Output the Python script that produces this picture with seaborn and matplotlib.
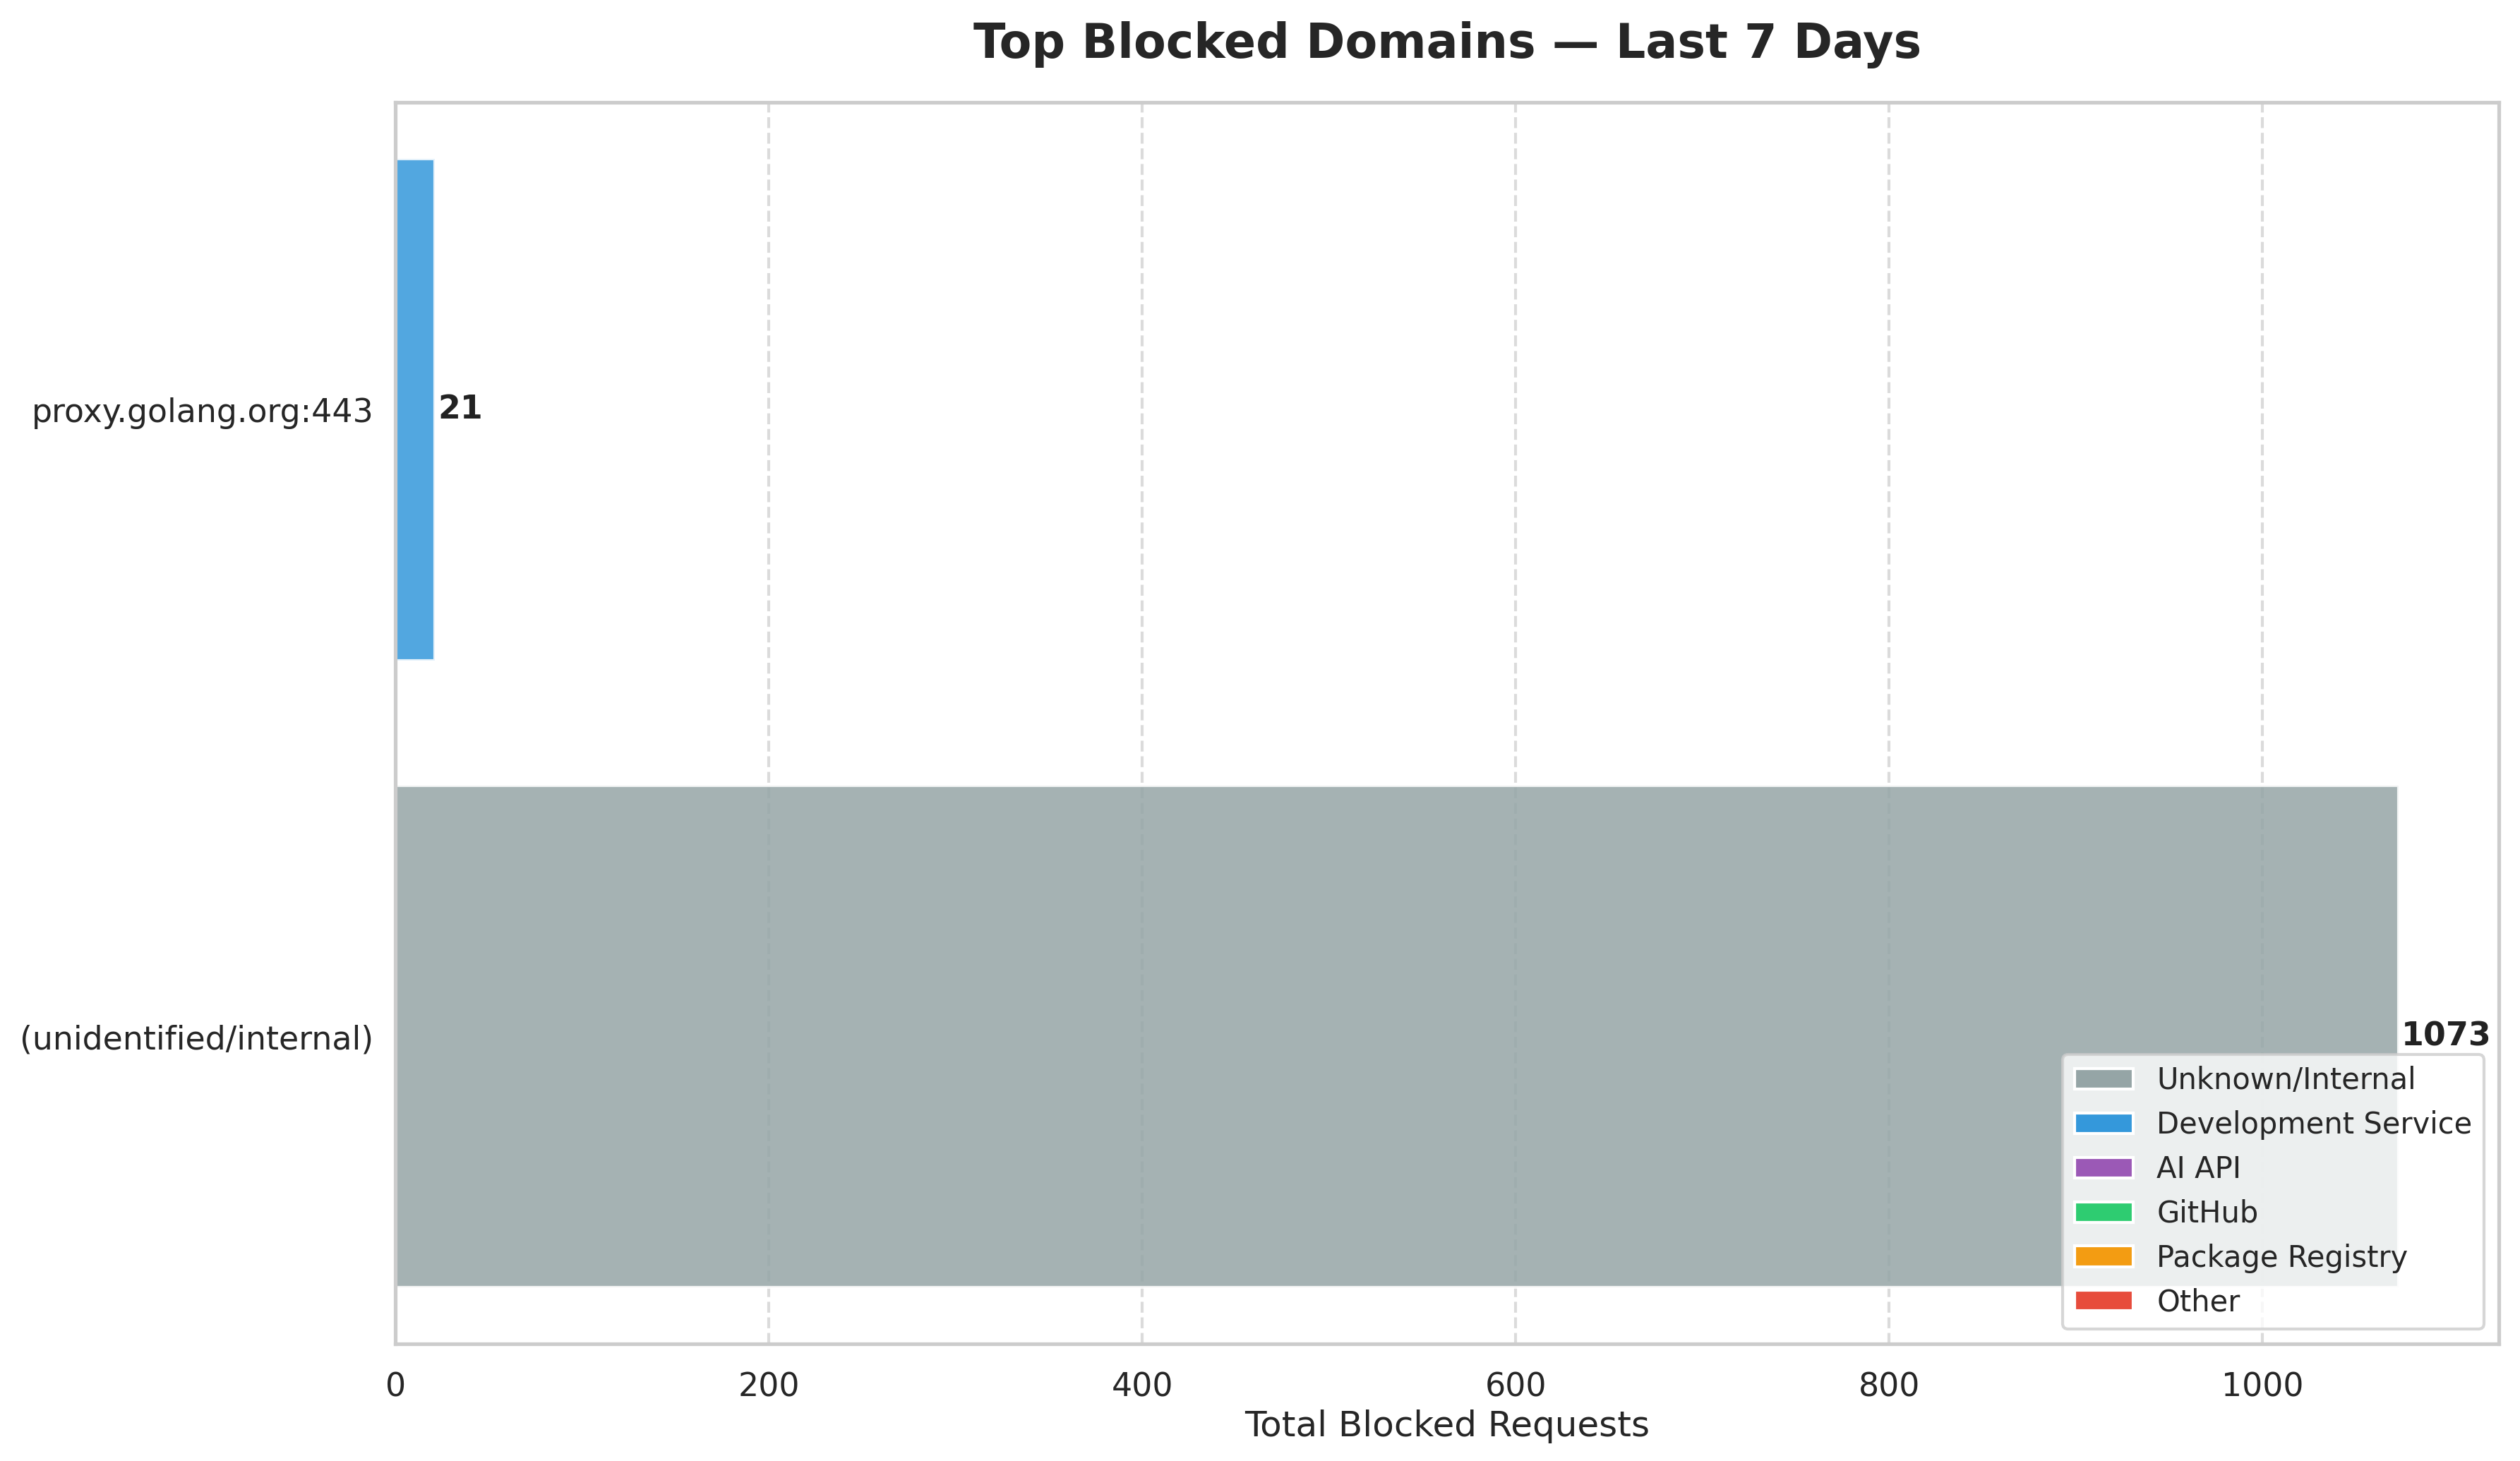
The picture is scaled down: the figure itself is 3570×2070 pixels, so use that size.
import seaborn as sns
import matplotlib.pyplot as plt
from matplotlib.patches import Patch
import pandas as pd

# Blocked domain data (top to bottom)
domains = ["proxy.golang.org:443", "(unidentified/internal)"]
blocked = [21, 1073]
domain_category = ["Development Service", "Unknown/Internal"]

# Legend categories and colours
categories = ["Unknown/Internal", "Development Service", "AI API", "GitHub", "Package Registry", "Other"]
category_colors = ["#95a5a6", "#3498db", "#9b59b6", "#2ecc71", "#f39c12", "#e74c3c"]
palette = dict(zip(categories, category_colors))

sns.set_theme(style="whitegrid")

df = pd.DataFrame({"Domain": domains, "Blocked": blocked, "Category": domain_category})

fig, ax = plt.subplots(figsize=(11.9, 6.9))
fig.subplots_adjust(left=0.157, right=0.9916, top=0.930, bottom=0.0802)

sns.barplot(data=df, x="Blocked", y="Domain", hue="Category", palette=palette, saturation=1,
			order=domains, hue_order=categories, dodge=False, legend=False, alpha=0.85, ax=ax)

# Value labels at the end of each bar
for i, v in enumerate(blocked):
	ax.text(v + 1.5, i, str(v), va="center", ha="left", fontsize=11, fontweight="bold", color="#222222")

ax.set_xlim(0, max(blocked) * 1.05)
ax.set_ylim(len(domains) - 0.51, -0.49)
ax.grid(axis="x", linestyle="--", alpha=0.7)
ax.tick_params(axis="y", length=0, pad=7.5)
ax.set_xlabel("Total Blocked Requests", fontsize=12, labelpad=2)
ax.set_ylabel("")
ax.set_title("Top Blocked Domains \u2014 Last 7 Days", fontsize=16, fontweight="bold", pad=15)

handles = [Patch(facecolor=palette[c], edgecolor="white", label=c) for c in categories]
ax.legend(handles=handles, loc="lower right", fontsize=10)

fig.savefig("out.png", dpi=300)
